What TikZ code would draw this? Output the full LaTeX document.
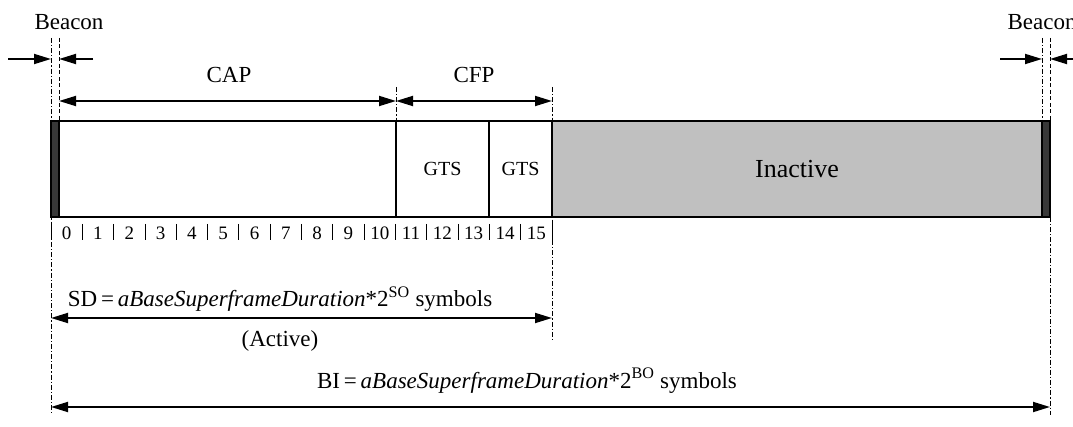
\documentclass[tikz,border=0pt]{standalone}
\usepackage{fontspec}
\setmainfont{Liberation Serif}
\usetikzlibrary{arrows.meta}
\definecolor{beacongray}{HTML}{383838}
\definecolor{inactgray}{HTML}{C0C0C0}
\begin{document}
\begin{tikzpicture}[x=1pt,y=-1pt,
  dim/.style={line width=1.8pt,{Triangle[length=17pt,width=10pt]}-{Triangle[length=17pt,width=10pt]}},
  ptr/.style={line width=1.8pt,-{Triangle[length=17pt,width=10pt]}},
  dashdot/.style={line width=0.9pt,dash pattern=on 5pt off 2pt on 1.2pt off 2pt},
  dsh/.style={line width=0.9pt,dash pattern=on 4pt off 2.5pt},
  lbl/.style={font=\fontsize{23}{27}\selectfont,inner sep=0pt},
  num/.style={font=\fontsize{19}{22}\selectfont,inner sep=0pt},
  seg/.style={draw,line width=1.6pt,inner sep=0pt,outer sep=0pt,anchor=north west,minimum height=96pt},
]
\useasboundingbox (0,0) rectangle (1073,427);

% guide lines
\draw[dashdot] (51,38) -- (51,415);
\draw[dsh] (59,38) -- (59,121);
\draw[dashdot] (396,87) -- (396,121);
\draw[dashdot] (552,87) -- (552,340);
\draw[dashdot] (1042,38) -- (1042,121);
\draw[dsh] (1050,38) -- (1050,121);
\draw[dashdot] (1050,217) -- (1050,415);

% superframe segments
\node[seg,fill=beacongray,minimum width=8pt] (bL) at (51,121) {};
\node[seg,fill=white,minimum width=337pt] (cap) at (59,121) {};
\node[seg,fill=white,minimum width=93pt,font=\fontsize{20}{24}\selectfont] (g1) at (396,121) {GTS};
\node[seg,fill=white,minimum width=63pt,font=\fontsize{20}{24}\selectfont] (g2) at (489,121) {GTS};
\node[seg,fill=inactgray,minimum width=490pt,font=\fontsize{26}{30}\selectfont] (ina) at (552,121) {Inactive};
\node[seg,fill=beacongray,minimum width=8pt] (bR) at (1042,121) {};

% slot numbers
\foreach \k in {0,...,16} \draw[line width=0.8pt] ({51+31.3125*\k},224) -- ++(0,16);
\foreach \i in {0,...,15} \node[num] (n\i) at ({51+31.3125*(\i+0.5)},233) {\i};

% labels
\node[lbl] (beaconL) at (69,22) {Beacon};
\node[lbl] (beaconR) at (1042,22) {Beacon};
\node[lbl] (capl) at (229,75) {CAP};
\node[lbl] (cfpl) at (474,75) {CFP};
\node[lbl,anchor=base] (sdl) at (280,307) {SD\,=\,\textit{aBaseSuperframeDuration}*2\textsuperscript{SO} symbols};
\node[lbl,anchor=base] (act) at (280,346) {(Active)};
\node[lbl,anchor=base] (bil) at (527,388) {BI\,=\,\textit{aBaseSuperframeDuration}*2\textsuperscript{BO} symbols};

% beacon arrows
\coordinate (a1s) at (8,59);   \coordinate (a1e) at (51,59);
\coordinate (a2s) at (93,59);  \coordinate (a2e) at (59,59);
\coordinate (a3s) at (1000,59);\coordinate (a3e) at (1042,59);
\coordinate (a4s) at (1073,59);\coordinate (a4e) at (1050,59);
\draw[ptr] (a1s) -- (a1e);
\draw[ptr] (a2s) -- (a2e);
\draw[ptr] (a3s) -- (a3e);
\draw[ptr] (a4s) -- (a4e);

% dimension arrows
\coordinate (c1) at (59,101);  \coordinate (c2) at (396,101); \coordinate (c3) at (552,101);
\draw[dim] (c1) -- (c2);
\draw[dim] (c2) -- (c3);
\coordinate (s1) at (51,318);  \coordinate (s2) at (552,318);
\draw[dim] (s1) -- (s2);
\coordinate (b1) at (51,407);  \coordinate (b2) at (1050,407);
\draw[dim] (b1) -- (b2);
\end{tikzpicture}
\end{document}
